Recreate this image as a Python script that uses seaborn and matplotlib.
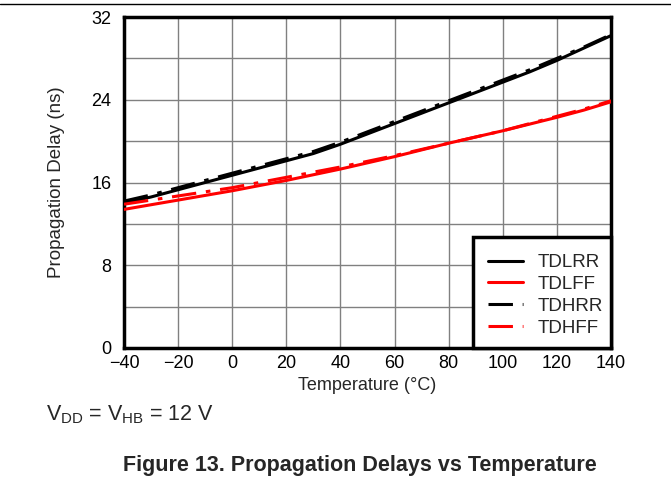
import matplotlib
matplotlib.use("Agg")
import matplotlib.pyplot as plt
import seaborn as sns
import pandas as pd
from matplotlib.lines import Line2D
from matplotlib.patches import Rectangle

temps = [-40, -30, -20, -10, 0, 10, 20, 30, 40, 50, 60, 70, 80, 90, 100, 110, 120, 130, 140]
tdlrr = [14.0, 14.6, 15.3, 16.0, 16.7, 17.4, 18.1, 18.8, 19.7, 20.7, 21.7, 22.7, 23.7, 24.7, 25.7, 26.7, 27.8, 29.0, 30.2]
tdlff = [13.4, 13.85, 14.3, 14.75, 15.2, 15.7, 16.2, 16.75, 17.3, 17.9, 18.5, 19.15, 19.8, 20.4, 21.0, 21.65, 22.3, 23.0, 23.8]
tdhrr = [14.2, 14.8, 15.5, 16.2, 16.9, 17.6, 18.3, 19.0, 19.9, 20.9, 21.9, 22.9, 23.9, 24.9, 25.9, 26.9, 28.0, 29.1, 30.3]
tdhff = [13.9, 14.3, 14.7, 15.1, 15.5, 16.0, 16.5, 17.0, 17.5, 18.05, 18.6, 19.2, 19.8, 20.4, 21.0, 21.7, 22.4, 23.1, 23.9]
series_names = ["TDLRR", "TDLFF", "TDHRR", "TDHFF"]
colors = ["black", "#ff0000", "black", "#ff0000"]
xticks = [-40, -20, 0, 20, 40, 60, 80, 100, 120, 140]
xticklabels = ["\u221240", "\u221220", "0", "20", "40", "60", "80", "100", "120", "140"]
yticks = [0, 4, 8, 12, 16, 20, 24, 28, 32]
yticklabels = ["0", "", "8", "", "16", "", "24", "", "32"]

sns.set_theme(style="white")
plt.rcParams['font.family'] = ['Liberation Sans', 'DejaVu Sans']
plt.rcParams['mathtext.fontset'] = 'custom'
plt.rcParams['mathtext.rm'] = 'Liberation Sans'

df = pd.DataFrame({"T": temps, "TDLRR": tdlrr, "TDLFF": tdlff, "TDHRR": tdhrr, "TDHFF": tdhff})
long = df.melt(id_vars="T", var_name="series", value_name="delay")

fig = plt.figure(figsize=(6.71, 4.8), dpi=100)
L, R, T, B = 124, 611, 17, 348
ax = fig.add_axes([L/671, 1-B/480, (R-L)/671, (B-T)/480])

dash = (0, (8, 3.2, 1.5, 3.2))
dash_styles = {"TDLRR": "-", "TDLFF": "-", "TDHRR": dash, "TDHFF": dash}
for name, col in zip(series_names, colors):
    sub = long[long["series"] == name]
    sns.lineplot(data=sub, x="T", y="delay", ax=ax, color=col, linewidth=2.2,
                 linestyle=dash_styles[name], legend=False, zorder=3)

ax.set_xlim(-40, 140)
ax.set_ylim(0, 32)
ax.set_xticks(xticks)
ax.set_xticklabels(xticklabels)
ax.set_yticks(yticks)
ax.set_yticklabels(yticklabels)
ax.grid(True, color="#808080", linewidth=1)
ax.tick_params(axis="x", labelsize=13, length=0, pad=5, colors="black")
ax.tick_params(axis="y", labelsize=13, length=0, pad=9, colors="black")
for s in ax.spines.values():
    s.set_color("black")
    s.set_linewidth(2.5)
ax.set_xlabel("Temperature (\u00b0C)", fontsize=13, labelpad=4)
ax.set_ylabel("Propagation Delay (ns)", fontsize=13.5, labelpad=19)

# legend box
bx0 = (473 - L) / (R - L)
by1 = (B - 237) / (B - T)
ax.add_patch(Rectangle((bx0, 0), 1 - bx0, by1, transform=ax.transAxes, facecolor="white",
                       edgecolor="black", linewidth=2.5, zorder=4, clip_on=False))

handles = [Line2D([], [], color=c, lw=2.2, linestyle=dash_styles[n]) for n, c in zip(series_names, colors)]
leg = ax.legend(handles, series_names, loc="upper left",
                bbox_to_anchor=((488 - L) / (R - L), (B - 254) / (B - T)),
                fontsize=13.5, frameon=False, borderaxespad=0, borderpad=0,
                handlelength=1.87, handletextpad=0.8, labelspacing=0.25)
leg.set_zorder(5)

fig.add_artist(Line2D([0, 1], [1-4/480, 1-4/480], color="black", lw=1, transform=fig.transFigure))
fig.text(46/671, 1-415/480, r"V$_{\mathregular{DD}}$ = V$_{\mathregular{HB}}$ = 12 V", fontsize=15.5, va="center", ha="left")
fig.text(360/671, 1-465/480, "Figure 13. Propagation Delays vs Temperature", fontsize=15.5,
         fontweight="bold", ha="center", va="center")

fig.savefig("out.png", dpi=100)
